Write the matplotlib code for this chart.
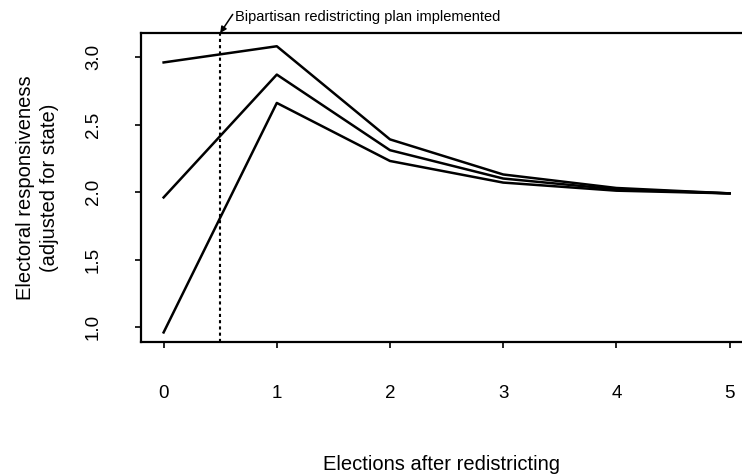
import matplotlib
matplotlib.use("Agg")
import matplotlib.pyplot as plt

elections = [0, 1, 2, 3, 4, 5]
high_start = [2.96, 3.08, 2.39, 2.13, 2.03, 1.99]
mid_start = [1.96, 2.87, 2.31, 2.10, 2.02, 1.99]
low_start = [0.96, 2.66, 2.23, 2.07, 2.01, 1.99]
plan_x = 0.5
x_ticks = [0, 1, 2, 3, 4, 5]
y_ticks = [1.0, 1.5, 2.0, 2.5, 3.0]

plt.rcParams['font.family'] = ['Liberation Sans', 'DejaVu Sans']

fig = plt.figure(figsize=(7.42, 4.75), dpi=100)
ax = fig.add_axes([0.19, 0.28, 0.81, 0.6505])

for series in (high_start, mid_start, low_start):
    ax.plot(elections, series, color='black', lw=1.8)

ax.axvline(plan_x, color='black', lw=1.5, ls=(0, (1.5, 1.5)))

ax.set_xlim(-0.2, 5.11)
ax.set_ylim(0.889, 3.178)
ax.set_xticks(x_ticks)
ax.set_xticklabels([str(t) for t in x_ticks])
ax.set_yticks(y_ticks)
ax.set_yticklabels(['%.1f' % t for t in y_ticks], rotation=90, va='center')
ax.tick_params(axis='x', length=4, width=1.2, pad=27, labelsize=13.5)
ax.tick_params(axis='y', length=4, width=1.2, pad=24, labelsize=13.5)
ax.spines['right'].set_visible(False)
for s in ('left', 'top', 'bottom'):
    ax.spines[s].set_linewidth(1.6)

ax.set_xlabel('Elections after redistricting', fontsize=14.5)
ax.xaxis.set_label_coords(0.5, -0.365)
ax.set_ylabel('Electoral responsiveness\n(adjusted for state)', fontsize=14.5,
              linespacing=1.35)
ax.yaxis.set_label_coords(-0.136, 0.5)

# note above the plot with arrow down to the dotted line
ax.annotate('Bipartisan redistricting plan implemented',
            xy=(plan_x, 3.178), xytext=(0.635, 3.30),
            fontsize=10.5, va='center', ha='left', annotation_clip=False,
            arrowprops=dict(arrowstyle='-|>', color='black', lw=1.1,
                            mutation_scale=9, shrinkA=0, shrinkB=0,
                            relpos=(0, 0.95)))

fig.savefig('out.png', dpi=100)
